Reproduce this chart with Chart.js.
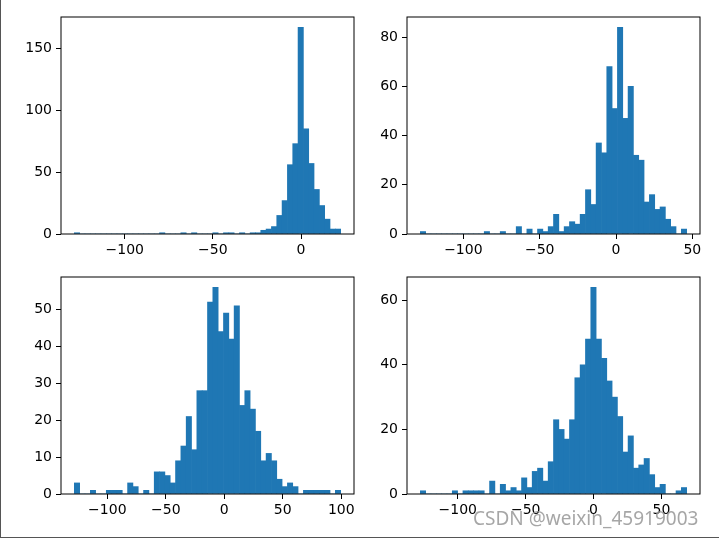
<!DOCTYPE html>
<html>
<head>
<meta charset="utf-8">
<script src="https://cdn.jsdelivr.net/npm/chart.js@4.4.1/dist/chart.umd.min.js"></script>
<style>
  html, body { margin: 0; padding: 0; background: #fff; }
  #page { position: relative; width: 719px; height: 538px; overflow: hidden; box-sizing: border-box;
          border-left: 1px solid #555; border-bottom: 1px solid #555; }
  canvas { position: absolute; }
  #mark { position: absolute; left: 472px; top: 505px; font-family: "Noto Sans", sans-serif; font-size: 19px;
          color: rgba(150, 150, 150, 0.85); white-space: nowrap; }
</style>
</head>
<body>
<div id="page">
  <canvas id="tl" width="347" height="249" style="left:10px; top:15px; width:347px; height:249px"></canvas>
  <canvas id="tr" width="347" height="249" style="left:356px; top:15px; width:347px; height:249px"></canvas>
  <canvas id="bl" width="347" height="249" style="left:10px; top:275px; width:347px; height:249px"></canvas>
  <canvas id="br" width="347" height="249" style="left:356px; top:275px; width:347px; height:249px"></canvas>
  <div id="mark">CSDN @weixin_45919003</div>
</div>
<script>
// 50-bin histograms, counts (left to right)
const countsTL = [1,0,0,0,0,0,0,0,0,0, 0,0,0,0,0,0,1,0,0,0, 1,0,1,0,0,0,1,0,1,1,
                  0,1,0,1,1,3,4,6,15,27, 56,73,167,85,57,36,23,12,4,4];
const countsTR = [1,0,0,0,0,0,0,0,0,0, 0,0,1,0,0,1,0,0,3,0, 2,0,2,1,3,8,1,3,5,4,
                  8,18,12,37,33,68,51,84,47,60, 32,30,13,16,10,11,6,3,0,2];
const countsBL = [3,0,0,1,0,0,1,1,1,0, 3,2,0,1,0,6,6,5,3,9, 13,21,12,28,28,52,56,44,49,42,
                  51,24,28,23,17,9,11,9,4,2, 3,2,0,1,1,1,1,1,0,1];
const countsBR = [1,0,0,0,0,0,1,0,1,1, 1,1,0,4,0,3,1,2,1,5, 2,7,8,4,10,23,20,17,23,36,
                  40,48,64,48,42,35,30,24,13,18, 8,9,11,6,2,3,0,0,1,2];

// data range of each histogram (first bin edge, last bin edge)
const rangeTL = [-128.6, 22.5];
const rangeTR = [-128.2, 46.3];
const rangeBL = [-128.2, 99.5];
const rangeBR = [-127.6, 68.6];

// tick labels
const xTicksTL = [-100, -50, 0];
const xTicksTR = [-100, -50, 0, 50];
const xTicksBL = [-100, -50, 0, 50, 100];
const xTicksBR = [-100, -50, 0, 50];
const yTicksTL = [0, 50, 100, 150];
const yTicksTR = [0, 20, 40, 60, 80];
const yTicksBL = [0, 10, 20, 30, 40, 50];
const yTicksBR = [0, 20, 40, 60];

const BLUE = '#1f77b4';
const tickFont = { family: 'DejaVu Sans', size: 14 };

// box around the plot area, like matplotlib spines
const frame = {
  id: 'frame',
  afterDraw(chart) {
    const { ctx, chartArea: a } = chart;
    ctx.save();
    ctx.strokeStyle = '#000';
    ctx.lineWidth = 1;
    ctx.strokeRect(a.left, a.top, a.right - a.left, a.bottom - a.top);
    ctx.restore();
  }
};

const tickGrid = { display: true, drawOnChartArea: false, drawTicks: true, tickLength: 5, color: '#000', offset: false };
const minus = v => String(v).replace('-', '\u2212');

function hist(id, counts, range, xTicks, yTicks) {
  const w = (range[1] - range[0]) / counts.length;
  const pad = (range[1] - range[0]) * 0.05;
  const points = counts.map((c, i) => ({ x: range[0] + w * (i + 0.5), y: c }));

  new Chart(document.getElementById(id), {
    type: 'bar',
    data: {
      datasets: [{
        data: points,
        backgroundColor: BLUE,
        borderWidth: 0,
        barPercentage: 1,
        categoryPercentage: 1
      }]
    },
    options: {
      responsive: false,
      animation: false,
      layout: { padding: { top: 2, right: 4, left: 0, bottom: 0 } },
      plugins: { legend: { display: false }, tooltip: { enabled: false } },
      scales: {
        x: {
          type: 'linear',
          min: range[0] - pad,
          max: range[1] + pad,
          offset: false,
          afterBuildTicks: s => { s.ticks = xTicks.map(v => ({ value: v })); },
          afterFit: s => { s.height = 30; s.paddingLeft = 0; s.paddingRight = 0; },
          grid: tickGrid,
          border: { display: false },
          ticks: { color: '#000', font: tickFont, padding: 3, maxRotation: 0, autoSkip: false, callback: minus }
        },
        y: {
          min: 0,
          max: Math.max(...counts) * 1.05,
          afterBuildTicks: s => { s.ticks = yTicks.map(v => ({ value: v })); },
          afterFit: s => { s.width = 50; s.paddingTop = 0; s.paddingBottom = 0; },
          grid: tickGrid,
          border: { display: false },
          ticks: { color: '#000', font: tickFont, padding: 4, autoSkip: false, callback: minus }
        }
      }
    },
    plugins: [frame]
  });
}

hist('tl', countsTL, rangeTL, xTicksTL, yTicksTL);
hist('tr', countsTR, rangeTR, xTicksTR, yTicksTR);
hist('bl', countsBL, rangeBL, xTicksBL, yTicksBL);
hist('br', countsBR, rangeBR, xTicksBR, yTicksBR);
</script>
</body>
</html>
